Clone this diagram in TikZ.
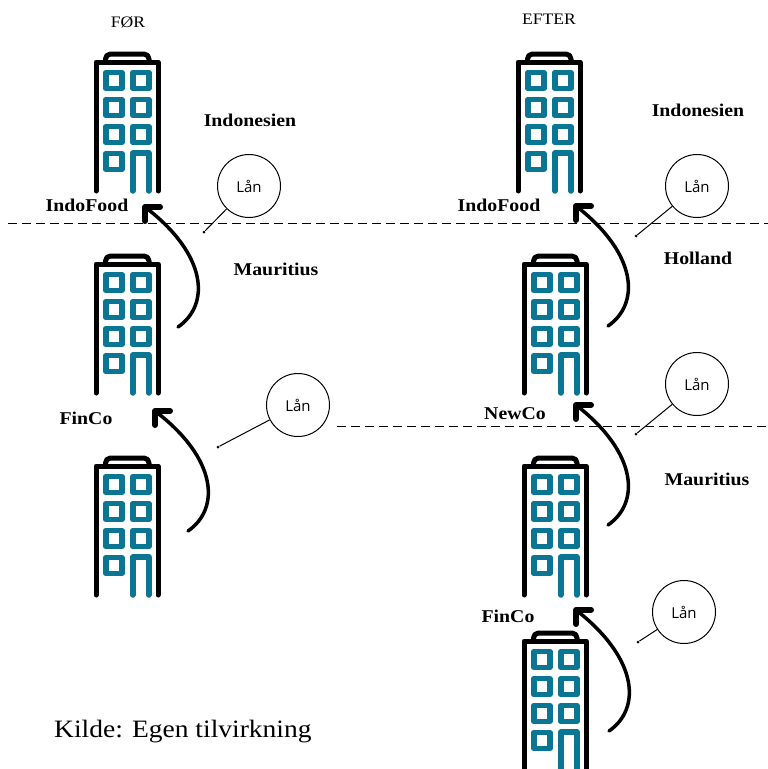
\documentclass[tikz,border=0pt]{standalone}
\usepackage{fontspec}
\setmainfont[FakeStretch=1.1]{Liberation Serif}
\newfontfamily\laanfont{Open Sans}
\definecolor{vindue}{RGB}{11,117,148}
\begin{document}
\begin{tikzpicture}[x=1pt,y=-1pt]
	\tikzstyle{land}=[font=\fontsize{18}{20}\selectfont\bfseries,inner sep=0pt]
	\tikzstyle{firma}=[font=\fontsize{18}{20}\selectfont\bfseries,inner sep=0pt]
	\tikzstyle{titel}=[font=\fontsize{16}{18}\selectfont,inner sep=0pt]
	\tikzstyle{laan}=[circle,draw,line width=1pt,minimum size=63pt,inner sep=0pt,font=\fontsize{15}{16}\selectfont\laanfont]
	\tikzstyle{prik}=[circle,fill,inner sep=0pt,minimum size=3pt]
	\tikzstyle{streg}=[line width=1pt]
	\tikzstyle{graense}=[line width=1pt,dash pattern=on 9pt off 5pt]
	\tikzstyle{pil}=[line width=3.5pt,line cap=round]
	\tikzstyle{hoved}=[line width=6pt,line cap=round,line join=round]
	\tikzstyle{vaeg}=[line width=5pt,line cap=round,line join=round]
	\tikzstyle{rude}=[draw=vindue,line width=5.5pt,line join=round]
	\tikzset{bygning/.pic={
		\draw[vaeg] (2,139) -- (2,10) -- (64,10) -- (64,139);
		\draw[vaeg,rounded corners=5pt] (11.5,9) -- (11.5,2) -- (55,2) -- (55,9);
		\draw[rude] (11.75,20.5) rectangle ++(16,16);
		\draw[rude] (38.75,20.5) rectangle ++(16,16);
		\draw[rude] (11.75,47.5) rectangle ++(16,16);
		\draw[rude] (38.75,47.5) rectangle ++(16,16);
		\draw[rude] (11.75,74.5) rectangle ++(16,16);
		\draw[rude] (38.75,74.5) rectangle ++(16,16);
		\draw[rude] (11.75,101.5) rectangle ++(16,16);
		\draw[rude,line cap=round] (38.75,139) -- (38.75,101) -- (54.75,101) -- (54.75,139);
	}}
	\useasboundingbox (0,0) rectangle (768,769);

	% bygninger
	\pic at (94,52) {bygning};
	\pic at (94,254) {bygning};
	\pic at (94,456) {bygning};
	\pic at (516,52) {bygning};
	\pic at (522,254) {bygning};
	\pic at (522,456) {bygning};
	\pic at (522,631) {bygning};

	% graenser
	\coordinate (G1) at (8,223);
	\coordinate (G2) at (768,223);
	\coordinate (G3) at (337,426);
	\coordinate (G4) at (768,426);
	\draw[graense] (G1) -- (G2);
	\draw[graense] (G3) -- (G4);

	% tekst
	\node[titel] (foer) at (128,22){FØR};
	\node[titel] (efter) at (549,19){EFTER};
	\node[land] (indoA) at (250,120){Indonesien};
	\node[land] (mauA) at (276,269){Mauritius};
	\node[land] (indoB) at (698,110){Indonesien};
	\node[land] (holland) at (698,258){Holland};
	\node[land] (mauB) at (707,479){Mauritius};
	\node[firma] (foodA) at (87,205){IndoFood};
	\node[firma] (fincoA) at (86,418){FinCo};
	\node[firma] (foodB) at (499,205){IndoFood};
	\node[firma] (newco) at (515,414){NewCo};
	\node[firma] (fincoB) at (508,616){FinCo};
	\node[anchor=west,inner sep=0pt,font=\fontsize{25}{30}\selectfont] (kilde) at (54,732){Kilde: Egen tilvirkning};

	% laan
	\node[laan] (L1) at (249,186){Lån};
	\node[prik] (P1) at (204,232){};
	\node[laan] (L2) at (298,405){Lån};
	\node[prik] (P2) at (218,447){};
	\node[laan] (L3) at (697,186){Lån};
	\node[prik] (P3) at (636,236){};
	\node[laan] (L4) at (697,384){Lån};
	\node[prik] (P4) at (636,434){};
	\node[laan] (L5) at (684,612){Lån};
	\node[prik] (P5) at (638,642){};
	\draw[streg] (L1) -- (P1);
	\draw[streg] (L2) -- (P2);
	\draw[streg] (L3) -- (P3);
	\draw[streg] (L4) -- (P4);
	\draw[streg] (L5) -- (P5);

	% pile
	\coordinate (a1) at (178,327);
	\coordinate (b1) at (145,207);
	\coordinate (a2) at (188,531);
	\coordinate (b2) at (155,411);
	\coordinate (a3) at (608,326);
	\coordinate (b3) at (576,206);
	\coordinate (a4) at (608,525);
	\coordinate (b4) at (576,405);
	\coordinate (a5) at (609,731);
	\coordinate (b5) at (576,610);
	\draw[pil] (a1) .. controls (210,305) and (208,255) .. (b1);
	\draw[pil] (a2) .. controls (220,509) and (218,459) .. (b2);
	\draw[pil] (a3) .. controls (640,304) and (638,254) .. (b3);
	\draw[pil] (a4) .. controls (640,503) and (638,453) .. (b4);
	\draw[pil] (a5) .. controls (641,709) and (639,659) .. (b5);
	\draw[hoved] (b1) ++(15,0) -- (b1) -- ++(0,14);
	\draw[hoved] (b2) ++(15,0) -- (b2) -- ++(0,14);
	\draw[hoved] (b3) ++(15,0) -- (b3) -- ++(0,14);
	\draw[hoved] (b4) ++(15,0) -- (b4) -- ++(0,14);
	\draw[hoved] (b5) ++(15,0) -- (b5) -- ++(0,14);
\end{tikzpicture}
\end{document}
